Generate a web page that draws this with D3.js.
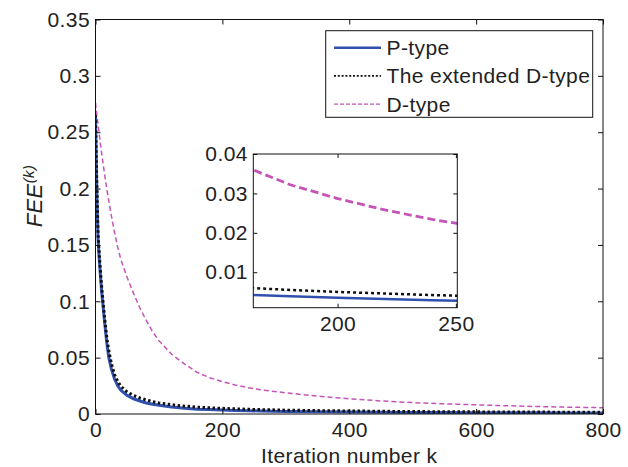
<!DOCTYPE html>
<html lang="en">
<head>
<meta charset="utf-8">
<title>FEE vs iteration number</title>
<script src="https://d3js.org/d3.v7.min.js"></script>
<style>
  body { margin: 0; background: #fff; }
  svg text { font-family: "Liberation Sans", Arial, sans-serif; fill: #222; letter-spacing: 0.4px; }
</style>
</head>
<body>
<script>
// iteration numbers k and the FEE of each method
var kVals = [0, 2, 4, 6, 8, 10, 12, 15, 18, 21, 25, 30, 35, 40, 50, 60, 70, 80, 90, 100,
             120, 140, 160, 180, 200, 220, 240, 260, 300, 350, 400, 450, 500, 550, 600, 650, 700, 750, 800];
var pType = [0.263, 0.200, 0.155, 0.137, 0.121, 0.107, 0.095, 0.078, 0.062, 0.050, 0.040, 0.031, 0.025, 0.021,
             0.0165, 0.0135, 0.0115, 0.0098, 0.0086, 0.0077, 0.0063, 0.0052, 0.0043, 0.0039, 0.0035, 0.0032,
             0.0029, 0.0027, 0.0023, 0.0020, 0.0018, 0.0016, 0.0014, 0.0013, 0.0012, 0.0011, 0.0010, 0.00095, 0.0009];
var extD = [0.265, 0.205, 0.160, 0.141, 0.125, 0.111, 0.099, 0.082, 0.067, 0.056, 0.045, 0.035, 0.029, 0.0245,
            0.0195, 0.0165, 0.0142, 0.0125, 0.0110, 0.0098, 0.0082, 0.0070, 0.0061, 0.0055, 0.0050, 0.0046,
            0.0042, 0.0039, 0.0034, 0.0030, 0.0027, 0.0024, 0.0022, 0.0020, 0.0019, 0.0018, 0.0017, 0.0016, 0.0015];
var dType = [0.276, 0.266, 0.257, 0.248, 0.239, 0.230, 0.222, 0.210, 0.199, 0.189, 0.176, 0.161, 0.148, 0.137,
             0.121, 0.107, 0.094, 0.083, 0.073, 0.065, 0.053, 0.0445, 0.0370, 0.0322, 0.0287, 0.0258,
             0.0234, 0.0215, 0.0188, 0.0158, 0.0135, 0.0116, 0.0101, 0.0090, 0.0081, 0.0073, 0.0066, 0.0060, 0.0056];

var xTicks = [0, 200, 400, 600, 800];
var yTicks = [0, 0.05, 0.1, 0.15, 0.2, 0.25, 0.3, 0.35];
var insetXTicks = [200, 250];
var insetYTicks = [0.01, 0.02, 0.03, 0.04];
var legendNames = ["P-type", "The extended D-type", "D-type"];

var w = 628, h = 467;
var fs = "21px";
var fmt = function(d) { return String(+d.toFixed(3)); };

var series = [
  { name: legendNames[0], vals: pType, color: "#3050ad", width: 3, dash: null, iw: 2.5, idash: null },
  { name: legendNames[1], vals: extD, color: "#111", width: 3, dash: "2.5,2.5", iw: 2.5, idash: "3,3" },
  { name: legendNames[2], vals: dType, color: "#c455b6", width: 1.5, dash: "5,3", iw: 2.8, idash: "8,4" }
];
// draw order: D-type first, then blue, then dotted on top
var drawOrder = [series[2], series[0], series[1]];

var svg = d3.select("body").append("svg")
  .attr("width", w).attr("height", h);

// ---------- main axes ----------
var x = d3.scaleLinear().domain([0, 800]).range([95.5, 603]);
var y = d3.scaleLinear().domain([0, 0.35]).range([414, 19.5]);

var defs = svg.append("defs");
defs.append("clipPath").attr("id", "mainClip").append("rect")
  .attr("x", x(0)).attr("y", y(0.35)).attr("width", x(800) - x(0)).attr("height", y(0) - y(0.35));

function drawAxes(g, xs, ys, xt, yt, tick) {
  g.append("g").attr("transform", "translate(0," + ys.range()[0] + ")")
    .call(d3.axisBottom(xs).tickValues(xt).tickSizeInner(-tick).tickSizeOuter(0).tickPadding(8.5).tickFormat(fmt));
  g.append("g").attr("transform", "translate(0," + ys.range()[1] + ")")
    .call(d3.axisTop(xs).tickValues(xt).tickSizeInner(-tick).tickSizeOuter(0).tickFormat(""));
  g.append("g").attr("transform", "translate(" + xs.range()[0] + ",0)")
    .call(d3.axisLeft(ys).tickValues(yt).tickSizeInner(-tick).tickSizeOuter(0).tickPadding(5.5).tickFormat(fmt));
  g.append("g").attr("transform", "translate(" + xs.range()[1] + ",0)")
    .call(d3.axisRight(ys).tickValues(yt).tickSizeInner(-tick).tickSizeOuter(0).tickFormat(""));
  g.selectAll(".domain").remove();
  g.selectAll(".tick line").attr("stroke", "#111");
  g.selectAll(".tick text").attr("font-size", fs).attr("fill", "#222").attr("font-family", null);
  g.append("rect")
    .attr("x", xs.range()[0]).attr("y", ys.range()[1])
    .attr("width", xs.range()[1] - xs.range()[0]).attr("height", ys.range()[0] - ys.range()[1])
    .attr("fill", "none").attr("stroke", "#111").attr("stroke-width", 1);
}

var mainLines = svg.append("g").attr("clip-path", "url(#mainClip)");
var line = d3.line().x(function(d) { return x(d[0]); }).y(function(d) { return y(d[1]); });

drawOrder.forEach(function(s) {
  mainLines.append("path")
    .datum(kVals.map(function(k, i) { return [k, s.vals[i]]; }))
    .attr("d", line)
    .attr("fill", "none")
    .attr("stroke", s.color)
    .attr("stroke-width", s.width)
    .attr("stroke-dasharray", s.dash);
});

drawAxes(svg.append("g"), x, y, xTicks, yTicks, 5);

// axis titles
svg.append("text")
  .attr("x", (x(0) + x(800)) / 2).attr("y", 463)
  .attr("text-anchor", "middle").attr("font-size", fs)
  .text("Iteration number k");

var yl = svg.append("text")
  .attr("transform", "translate(42,196) rotate(-90)")
  .attr("text-anchor", "middle").attr("font-size", "22px").attr("font-style", "italic");
yl.append("tspan").text("FEE");
yl.append("tspan").attr("font-size", "15px").attr("dy", "-8").text("(k)");

// ---------- legend ----------
var lg = svg.append("g");
lg.append("rect").attr("x", 325.7).attr("y", 30.7).attr("width", 267).attr("height", 86.6)
  .attr("fill", "#fff").attr("stroke", "#111").attr("stroke-width", 1);
var legendStyle = [
  { w: 2.5, dash: null },
  { w: 1.8, dash: "2,1.8" },
  { w: 1.3, dash: "4,2" }
];
series.forEach(function(s, i) {
  var cy = 47.7 + i * 28.2;
  lg.append("line").attr("x1", 334).attr("x2", 381).attr("y1", cy).attr("y2", cy)
    .attr("stroke", s.color).attr("stroke-width", legendStyle[i].w)
    .attr("stroke-dasharray", legendStyle[i].dash);
  lg.append("text").attr("x", 386.5).attr("y", cy + 7.5).attr("font-size", fs).text(s.name);
});

// ---------- inset ----------
var ix = d3.scaleLinear().domain([164.4, 250.6]).range([253.3, 457.3]);
var iy = d3.scaleLinear().domain([0.001, 0.04]).range([307.7, 154]);

defs.append("clipPath").attr("id", "insetClip").append("rect")
  .attr("x", ix.range()[0]).attr("y", iy.range()[1])
  .attr("width", ix.range()[1] - ix.range()[0]).attr("height", iy.range()[0] - iy.range()[1]);

var ig = svg.append("g");
ig.append("rect")
  .attr("x", ix.range()[0]).attr("y", iy.range()[1])
  .attr("width", ix.range()[1] - ix.range()[0]).attr("height", iy.range()[0] - iy.range()[1])
  .attr("fill", "#fff");

var iline = d3.line().x(function(d) { return ix(d[0]); }).y(function(d) { return iy(d[1]); });
var insetLines = ig.append("g").attr("clip-path", "url(#insetClip)");
drawOrder.forEach(function(s) {
  insetLines.append("path")
    .datum(kVals.map(function(k, i) { return [k, s.vals[i]]; }))
    .attr("d", iline)
    .attr("fill", "none")
    .attr("stroke", s.color)
    .attr("stroke-width", s.iw)
    .attr("stroke-dasharray", s.idash);
});

drawAxes(ig, ix, iy, insetXTicks, insetYTicks, 4);
</script>
</body>
</html>
